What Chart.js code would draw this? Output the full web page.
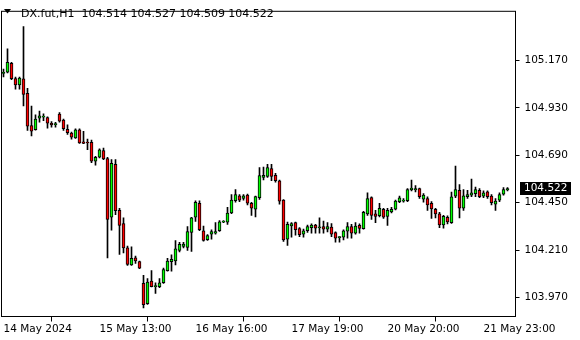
<!DOCTYPE html>
<html>
<head>
<meta charset="utf-8">
<script src="https://cdn.jsdelivr.net/npm/chart.js@4.4.1/dist/chart.umd.min.js"></script>
<style>
  html, body { margin: 0; padding: 0; background: #fff; }
  #wrap { width: 580px; height: 340px; }
</style>
</head>
<body>
<div id="wrap"><canvas id="grafico" width="580" height="340"></canvas></div>
<script>
// DX.fut H1 candles, bar 0 = 14 May 2024
var open = [105.104, 105.111, 105.155, 105.078, 105.046, 105.077, 105.003, 104.840, 104.819, 104.878,
    104.883, 104.880, 104.852, 104.845, 104.898, 104.868, 104.821, 104.802, 104.778, 104.819,
    104.758, 104.753, 104.755, 104.660, 104.680, 104.714, 104.673, 104.377, 104.644, 104.411,
    104.344, 104.221, 104.135, 104.171, 104.152, 104.042, 103.939, 104.053, 104.025, 104.025,
    104.045, 104.106, 104.152, 104.155, 104.209, 104.229, 104.224, 104.299, 104.377, 104.447,
    104.308, 104.263, 104.291, 104.296, 104.308, 104.352, 104.352, 104.398, 104.460, 104.485,
    104.472, 104.488, 104.447, 104.417, 104.476, 104.578, 104.583, 104.622, 104.589, 104.561,
    104.463, 104.266, 104.332, 104.349, 104.319, 104.291, 104.308, 104.324, 104.337, 104.323,
    104.329, 104.316, 104.327, 104.299, 104.273, 104.276, 104.306, 104.329, 104.296, 104.335,
    104.319, 104.393, 104.476, 104.393, 104.384, 104.417, 104.381, 104.403, 104.417, 104.455,
    104.458, 104.460, 104.515, 104.514, 104.521, 104.468, 104.471, 104.447, 104.417, 104.393,
    104.337, 104.376, 104.349, 104.483, 104.512, 104.422, 104.480, 104.488, 104.496, 104.512,
    104.483, 104.505, 104.483, 104.443, 104.463, 104.493, 104.514];
var high = [105.126, 105.229, 105.160, 105.086, 105.086, 105.341, 105.029, 104.939, 104.895, 104.914,
    104.899, 104.885, 104.860, 104.857, 104.906, 104.873, 104.844, 104.807, 104.824, 104.824,
    104.811, 104.772, 104.767, 104.685, 104.722, 104.726, 104.680, 104.668, 104.668, 104.422,
    104.373, 104.231, 104.226, 104.180, 104.155, 104.083, 104.066, 104.106, 104.045, 104.066,
    104.119, 104.168, 104.186, 104.258, 104.250, 104.250, 104.329, 104.376, 104.460, 104.460,
    104.332, 104.288, 104.313, 104.349, 104.360, 104.360, 104.427, 104.491, 104.516, 104.491,
    104.491, 104.493, 104.452, 104.483, 104.628, 104.630, 104.644, 104.644, 104.598, 104.565,
    104.466, 104.352, 104.349, 104.352, 104.324, 104.316, 104.337, 104.343, 104.340, 104.373,
    104.357, 104.349, 104.344, 104.303, 104.278, 104.313, 104.349, 104.340, 104.349, 104.343,
    104.406, 104.500, 104.480, 104.411, 104.447, 104.422, 104.422, 104.427, 104.463, 104.483,
    104.471, 104.521, 104.565, 104.537, 104.524, 104.496, 104.480, 104.455, 104.422, 104.401,
    104.386, 104.384, 104.504, 104.635, 104.542, 104.516, 104.512, 104.570, 104.529, 104.521,
    104.510, 104.510, 104.491, 104.471, 104.500, 104.526, 104.527];
var low = [105.086, 105.106, 105.073, 105.024, 105.024, 104.939, 104.816, 104.788, 104.817, 104.857,
    104.865, 104.827, 104.832, 104.832, 104.857, 104.816, 104.795, 104.772, 104.775, 104.750,
    104.748, 104.718, 104.652, 104.640, 104.677, 104.668, 104.171, 104.311, 104.389, 104.188,
    104.196, 104.132, 104.132, 104.143, 104.116, 103.917, 103.935, 104.024, 103.991, 104.020,
    104.042, 104.103, 104.103, 104.135, 104.201, 104.221, 104.209, 104.204, 104.355, 104.308,
    104.255, 104.259, 104.266, 104.291, 104.304, 104.349, 104.340, 104.394, 104.453, 104.455,
    104.463, 104.439, 104.385, 104.378, 104.466, 104.565, 104.578, 104.561, 104.554, 104.442,
    104.254, 104.234, 104.275, 104.286, 104.278, 104.275, 104.299, 104.296, 104.296, 104.296,
    104.296, 104.302, 104.278, 104.250, 104.250, 104.262, 104.270, 104.270, 104.291, 104.296,
    104.316, 104.386, 104.365, 104.349, 104.378, 104.370, 104.335, 104.398, 104.414, 104.450,
    104.452, 104.455, 104.510, 104.505, 104.472, 104.452, 104.411, 104.370, 104.373, 104.324,
    104.321, 104.343, 104.345, 104.476, 104.373, 104.411, 104.472, 104.480, 104.480, 104.475,
    104.476, 104.472, 104.439, 104.411, 104.455, 104.488, 104.509];
var close = [105.108, 105.160, 105.078, 105.046, 105.081, 104.998, 104.837, 104.812, 104.873, 104.890,
    104.885, 104.852, 104.844, 104.847, 104.862, 104.824, 104.804, 104.781, 104.819, 104.753,
    104.750, 104.752, 104.660, 104.680, 104.717, 104.672, 104.365, 104.649, 104.409, 104.335,
    104.221, 104.138, 104.168, 104.155, 104.119, 103.934, 104.048, 104.025, 104.030, 104.045,
    104.111, 104.155, 104.163, 104.217, 104.239, 104.240, 104.304, 104.373, 104.452, 104.313,
    104.259, 104.283, 104.304, 104.304, 104.353, 104.356, 104.398, 104.463, 104.491, 104.463,
    104.485, 104.447, 104.422, 104.481, 104.587, 104.589, 104.627, 104.583, 104.561, 104.458,
    104.261, 104.340, 104.344, 104.313, 104.288, 104.308, 104.329, 104.337, 104.321, 104.324,
    104.316, 104.329, 104.291, 104.271, 104.274, 104.308, 104.329, 104.296, 104.332, 104.320,
    104.401, 104.471, 104.386, 104.381, 104.422, 104.377, 104.411, 104.417, 104.458, 104.475,
    104.459, 104.516, 104.524, 104.522, 104.480, 104.488, 104.439, 104.419, 104.393, 104.337,
    104.381, 104.353, 104.480, 104.516, 104.422, 104.485, 104.491, 104.500, 104.516, 104.480,
    104.500, 104.480, 104.450, 104.458, 104.491, 104.516, 104.522];

var xTickIdx = [0, 24, 48, 72, 96, 120];
var xTickLabels = ["14 May 2024", "15 May 13:00", "16 May 16:00", "17 May 19:00", "20 May 20:00", "21 May 23:00"];
var yTicks = [103.970, 104.210, 104.450, 104.690, 104.930, 105.170];

var header = "DX.fut,H1  104.514 104.527 104.509 104.522";

var corpo = [], pavio = [], cores = [];
for (var i = 0; i < open.length; i++) {
    corpo.push({ x: i, y: [open[i], close[i]] });
    pavio.push({ x: i, y: [low[i], high[i]] });
    cores.push(close[i] >= open[i] ? "#00ff00" : "#ff0000");
}

Chart.defaults.font.family = "'DejaVu Sans', sans-serif";
Chart.defaults.font.size = 10.5;
Chart.defaults.color = "#000";

// frame, header line and last price box
var moldura = {
    id: 'moldura',
    afterDraw: function (chart) {
        var ctx = chart.ctx, a = chart.chartArea;
        ctx.save();
        ctx.strokeStyle = "#000";
        ctx.lineWidth = 1;
        ctx.strokeRect(a.left, a.top, a.right - a.left, a.bottom - a.top);

        ctx.fillStyle = "#000";
        ctx.beginPath();
        ctx.moveTo(4, 9);
        ctx.lineTo(11, 9);
        ctx.lineTo(7.5, 13.5);
        ctx.closePath();
        ctx.fill();
        ctx.font = "11px 'DejaVu Sans'";
        ctx.textBaseline = "alphabetic";
        ctx.textAlign = "left";
        ctx.fillText(header, 21, 16.5);

        var last = close[close.length - 1];
        var py = Math.round(chart.scales.y.getPixelForValue(last));
        ctx.fillRect(520, py - 6, 51, 13);
        ctx.fillStyle = "#fff";
        ctx.font = "10.5px 'DejaVu Sans'";
        ctx.textBaseline = "middle";
        ctx.fillText(last.toFixed(3), 524, py + 0.5);
        ctx.restore();
    }
};

new Chart(document.getElementById("grafico"), {
    type: 'bar',
    data: {
        datasets: [
            {
                label: "corpo",
                data: corpo,
                backgroundColor: cores,
                borderColor: "#000",
                borderWidth: 1,
                borderSkipped: false,
                barThickness: 3,
                minBarLength: 1,
                grouped: false
            },
            {
                label: "pavio",
                data: pavio,
                backgroundColor: "#000",
                borderWidth: 0,
                barThickness: 1,
                grouped: false
            }
        ]
    },
    options: {
        responsive: false,
        animation: false,
        events: [],
        layout: { padding: { left: 1.5, top: 2.5, right: 0, bottom: 0 } },
        plugins: {
            legend: { display: false },
            title: { display: false },
            tooltip: { enabled: false }
        },
        scales: {
            x: {
                type: 'linear',
                min: -0.5,
                max: 128,
                offset: false,
                border: { display: false },
                grid: { drawOnChartArea: false, drawTicks: true, tickLength: 5, color: "#000" },
                ticks: {
                    autoSkip: false,
                    maxRotation: 0,
                    align: 'start',
                    padding: 1,
                    callback: function (v) {
                        var k = xTickIdx.indexOf(v);
                        return k < 0 ? "" : xTickLabels[k];
                    }
                },
                afterBuildTicks: function (s) {
                    s.ticks = xTickIdx.map(function (v) { return { value: v }; });
                },
                afterFit: function (s) { s.height = 23.5; }
            },
            y: {
                position: 'right',
                min: 103.8741,
                max: 105.4184,
                border: { display: false },
                grid: { drawOnChartArea: false, drawTicks: true, tickLength: 4, color: "#000" },
                ticks: {
                    padding: 5,
                    callback: function (v) { return Number(v).toFixed(3); }
                },
                afterBuildTicks: function (s) {
                    s.ticks = yTicks.map(function (v) { return { value: v }; });
                },
                afterFit: function (s) { s.width = 64.5; }
            }
        }
    },
    plugins: [moldura]
});
</script>
</body>
</html>
